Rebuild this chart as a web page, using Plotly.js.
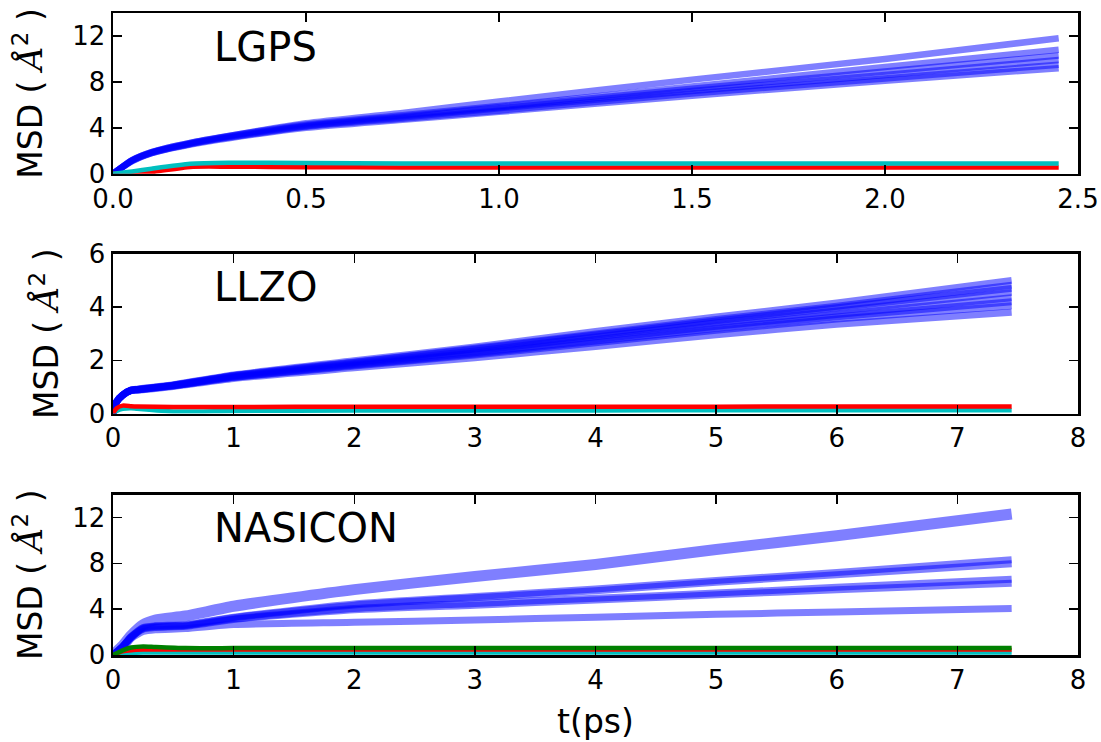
<!DOCTYPE html>
<html>
<head>
<meta charset="utf-8">
<script src="https://cdn.plot.ly/plotly-3.0.1.min.js"></script>
<style>html,body{margin:0;padding:0;background:#fff;}#chart{width:1101px;height:742px;}</style>
</head>
<body>
<div id="chart"></div>
<script>
// ---------- LGPS ----------
const lgpsT = [0, 0.05, 0.1, 0.2, 0.3, 0.5, 0.75, 1.0, 1.5, 2.0, 2.45];
const lgpsLi = [
  [0, 1.2, 1.9, 2.7, 3.3, 4.4, 5.3, 6.3, 8.2, 10.0, 11.8],
  [0, 1.2, 1.9, 2.7, 3.3, 4.3, 5.1, 5.9, 7.6, 9.3, 10.8],
  [0, 1.2, 1.85, 2.65, 3.25, 4.2, 5.0, 5.8, 7.4, 8.9, 10.3],
  [0, 1.15, 1.85, 2.6, 3.2, 4.15, 4.9, 5.7, 7.2, 8.6, 9.9],
  [0, 1.15, 1.8, 2.6, 3.15, 4.1, 4.8, 5.5, 7.0, 8.3, 9.5],
  [0, 1.1, 1.8, 2.55, 3.1, 4.0, 4.7, 5.4, 6.8, 8.1, 9.2]
];
const lgpsRed  = [0, 0.03, 0.15, 0.6, 0.62, 0.58, 0.55, 0.55, 0.55, 0.55, 0.55];
const lgpsCyan = [0, 0.2, 0.45, 0.88, 0.97, 0.95, 0.9, 0.9, 0.9, 0.9, 0.9];

// ---------- LLZO ----------
const llzoT = [0, 0.03, 0.08, 0.15, 0.2, 0.5, 1, 2, 3, 4, 5, 6, 7.45];
const llzoLi = [
  [0, 0.45, 0.7, 0.88, 0.92, 1.08, 1.45, 1.98, 2.5, 3.08, 3.63, 4.15, 5.0],
  [0, 0.45, 0.7, 0.88, 0.91, 1.07, 1.43, 1.94, 2.45, 2.99, 3.53, 4.03, 4.82],
  [0, 0.45, 0.7, 0.88, 0.91, 1.07, 1.42, 1.92, 2.42, 2.95, 3.48, 3.97, 4.7],
  [0, 0.45, 0.7, 0.88, 0.9, 1.06, 1.4, 1.88, 2.35, 2.88, 3.4, 3.85, 4.55],
  [0, 0.44, 0.7, 0.87, 0.9, 1.05, 1.38, 1.84, 2.28, 2.78, 3.28, 3.72, 4.35],
  [0, 0.44, 0.69, 0.87, 0.89, 1.04, 1.36, 1.81, 2.24, 2.72, 3.2, 3.63, 4.2],
  [0, 0.44, 0.69, 0.87, 0.89, 1.04, 1.35, 1.79, 2.2, 2.66, 3.13, 3.55, 4.05],
  [0, 0.43, 0.68, 0.86, 0.88, 1.02, 1.32, 1.72, 2.1, 2.52, 2.96, 3.35, 3.8]
];
const llzoRed  = [0, 0.2, 0.3, 0.28, 0.27, 0.25, 0.25, 0.26, 0.26, 0.26, 0.26, 0.27, 0.27];
const llzoCyan = [0, 0.1, 0.18, 0.2, 0.18, 0.08, 0.1, 0.12, 0.12, 0.12, 0.13, 0.13, 0.13];

// ---------- NASICON ----------
const nasiT = [0, 0.08, 0.15, 0.25, 0.35, 0.6, 1, 2, 3, 4, 5, 6, 7.45];
const nasiLi = [
  [0, 0.8, 1.7, 2.65, 3.05, 3.4, 4.25, 5.7, 6.85, 7.9, 9.2, 10.4, 12.3],
  [0, 0.75, 1.6, 2.4, 2.55, 2.65, 3.3, 4.45, 5.1, 5.75, 6.5, 7.2, 8.3],
  [0, 0.75, 1.6, 2.35, 2.5, 2.6, 3.25, 4.35, 5.0, 5.6, 6.35, 7.0, 7.95],
  [0, 0.75, 1.55, 2.3, 2.45, 2.55, 3.15, 4.05, 4.5, 4.95, 5.4, 5.9, 6.6],
  [0, 0.75, 1.55, 2.25, 2.4, 2.5, 3.1, 3.95, 4.35, 4.8, 5.25, 5.7, 6.25],
  [0, 0.7, 1.45, 2.05, 2.2, 2.3, 2.65, 2.85, 3.05, 3.3, 3.55, 3.75, 4.05]
];
const nasiRed   = [0, 0.3, 0.4, 0.45, 0.45, 0.45, 0.45, 0.45, 0.45, 0.45, 0.45, 0.45, 0.45];
const nasiGreen = [0, 0.4, 0.65, 0.75, 0.7, 0.6, 0.6, 0.62, 0.62, 0.62, 0.62, 0.62, 0.62];
const nasiCyan  = [0, 0.1, 0.15, 0.2, 0.2, 0.2, 0.2, 0.2, 0.2, 0.2, 0.2, 0.2, 0.2];

const panelNames = ["LGPS", "LLZO", "NASICON"];
const xTitle = "t(ps)";

const BLUE = "rgba(0,0,255,0.5)";
const traces = [];
function addLine(x, y, color, width, ax) {
  traces.push({x: x, y: y, mode: "lines", type: "scatter", xaxis: "x" + ax, yaxis: "y" + ax,
    line: {color: color, width: width, shape: "spline", smoothing: 0.6}, hoverinfo: "skip", showlegend: false});
}
lgpsLi.forEach(v => addLine(lgpsT, v, BLUE, 6.5, ""));
addLine(lgpsT, lgpsRed, "#ff0000", 4.5, "");
addLine(lgpsT, lgpsCyan, "#00bfbf", 4.5, "");
llzoLi.forEach(v => addLine(llzoT, v, BLUE, 7, "2"));
addLine(llzoT, llzoCyan, "#00bfbf", 4.5, "2");
addLine(llzoT, llzoRed, "#ff0000", 4.5, "2");
nasiLi.forEach((v, i) => addLine(nasiT, v, BLUE, i === 0 ? 11 : 7, "3"));
addLine(nasiT, nasiCyan, "#00bfbf", 4, "3");
addLine(nasiT, nasiRed, "#ff0000", 4, "3");
addLine(nasiT, nasiGreen, "#008000", 4.5, "3");

function tickFont() { return {family: "DejaVu Sans", size: 26, color: "#000"}; }
function yTitle() {
  return {
    text: "MSD ( <span style=\"font-family:'DejaVu Serif';font-style:italic\">Å</span><sup>2</sup> )",
    font: {family: "DejaVu Sans", size: 33, color: "#000"}, standoff: 20
  };
}
function axBase() {
  return {showgrid: false, zeroline: false, showline: true, linecolor: "#000", linewidth: 2.5,
    mirror: "ticks", ticks: "inside", ticklen: 9, tickwidth: 1.5, tickcolor: "#000",
    tickfont: tickFont(), fixedrange: true};
}
const layout = {
  width: 1101, height: 742,
  margin: {l: 113, r: 23, t: 13, b: 87},
  paper_bgcolor: "#fff", plot_bgcolor: "#fff",
  font: {family: "DejaVu Sans", color: "#000"},
  showlegend: false,
  xaxis: Object.assign(axBase(), {domain: [0, 1], range: [0, 2.5], dtick: 0.5, tick0: 0, tickformat: ".1f", anchor: "y"}),
  yaxis: Object.assign(axBase(), {domain: [0.7495, 1], range: [0, 14], dtick: 4, tick0: 0, anchor: "x", title: yTitle()}),
  xaxis2: Object.assign(axBase(), {domain: [0, 1], range: [0, 8], dtick: 1, tick0: 0, anchor: "y2"}),
  yaxis2: Object.assign(axBase(), {domain: [0.376, 0.625], range: [0, 6], dtick: 2, tick0: 0, anchor: "x2", title: yTitle()}),
  xaxis3: Object.assign(axBase(), {domain: [0, 1], range: [0, 8], dtick: 1, tick0: 0, anchor: "y3",
    title: {text: xTitle, font: {family: "DejaVu Sans", size: 33, color: "#000"}, standoff: 16}}),
  yaxis3: Object.assign(axBase(), {domain: [0, 0.25], range: [0, 14], dtick: 4, tick0: 0, anchor: "x3", title: yTitle()}),
  annotations: panelNames.map((n, i) => ({
    text: n, xref: (i === 0 ? "x" : "x" + (i + 1)) + " domain", yref: (i === 0 ? "y" : "y" + (i + 1)) + " domain",
    x: 0.1026, y: 0.79, xanchor: "left", yanchor: "middle", showarrow: false,
    font: {family: "DejaVu Sans", size: 40, color: "#000"}
  }))
};
Plotly.newPlot("chart", traces, layout, {staticPlot: true, displayModeBar: false});
</script>
</body>
</html>
